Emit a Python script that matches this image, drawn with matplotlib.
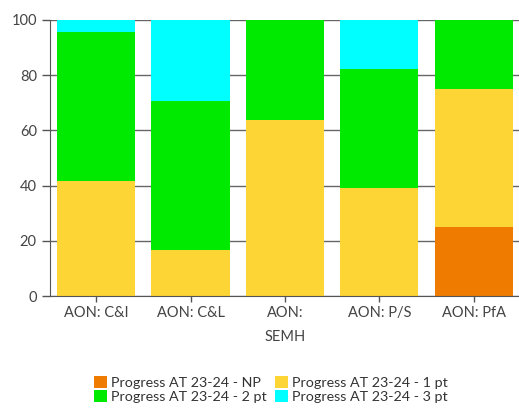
import matplotlib.pyplot as plt
import numpy as np

categorias = ["AON: C&I", "AON: C&L", "AON:\nSEMH", "AON: P/S", "AON: PfA"]
series = ["Progress AT 23-24 - NP", "Progress AT 23-24 - 1 pt",
          "Progress AT 23-24 - 2 pt", "Progress AT 23-24 - 3 pt"]
np_vals = [0, 0, 0, 0, 25]
pt1_vals = [41.7, 16.7, 63.6, 39.1, 50]
pt2_vals = [54.1, 54.1, 36.4, 43.0, 25]
pt3_vals = [4.2, 29.2, 0, 17.9, 0]
cores = ["#EF7B00", "#FDD535", "#00EA00", "#00FFFF"]

plt.rcParams['font.family'] = ['Lato', 'DejaVu Sans']
fig = plt.figure(figsize=(5.19, 4.08), dpi=100)
ax = fig.add_axes([0.0963, 0.2745, 0.9037, 0.6765])

x = np.arange(len(categorias))
base = np.zeros(len(categorias))
handles = []
for nome, vals, cor in zip(series, [np_vals, pt1_vals, pt2_vals, pt3_vals], cores):
    h = ax.bar(x, vals, bottom=base, width=0.83, color=cor, label=nome, zorder=2)
    handles.append(h)
    base = base + np.array(vals)

ax.set_xlim(-0.49, 4.48)
ax.set_ylim(0, 100)
ax.set_yticks([0, 20, 40, 60, 80, 100])
ax.set_xticks(x)
ax.set_xticklabels(categorias, fontsize=10.5, color="#444444", linespacing=1.9)
ax.tick_params(axis='y', labelsize=10.5, labelcolor="#444444", colors="#555555", length=6, width=1)
ax.tick_params(axis='x', colors="#555555", length=4, width=1, labelcolor="#444444")
ax.grid(axis='y', color="#666666", linewidth=1, zorder=0)
for s in ["top", "right"]:
    ax.spines[s].set_visible(False)
for s in ["left", "bottom"]:
    ax.spines[s].set_color("#555555")

# legenda preenchida por linhas: NP, 1 pt / 2 pt, 3 pt
ordem = [0, 2, 1, 3]
fig.legend(handles=[handles[i] for i in ordem], labels=[series[i] for i in ordem],
           loc="center", bbox_to_anchor=(0.522, 0.045),
           ncol=2, frameon=False, fontsize=10.3, handlelength=0.9, handleheight=0.9,
           handletextpad=0.3, columnspacing=0.6, labelspacing=0.05, labelcolor="#333333")

fig.savefig("out.png", dpi=100)
